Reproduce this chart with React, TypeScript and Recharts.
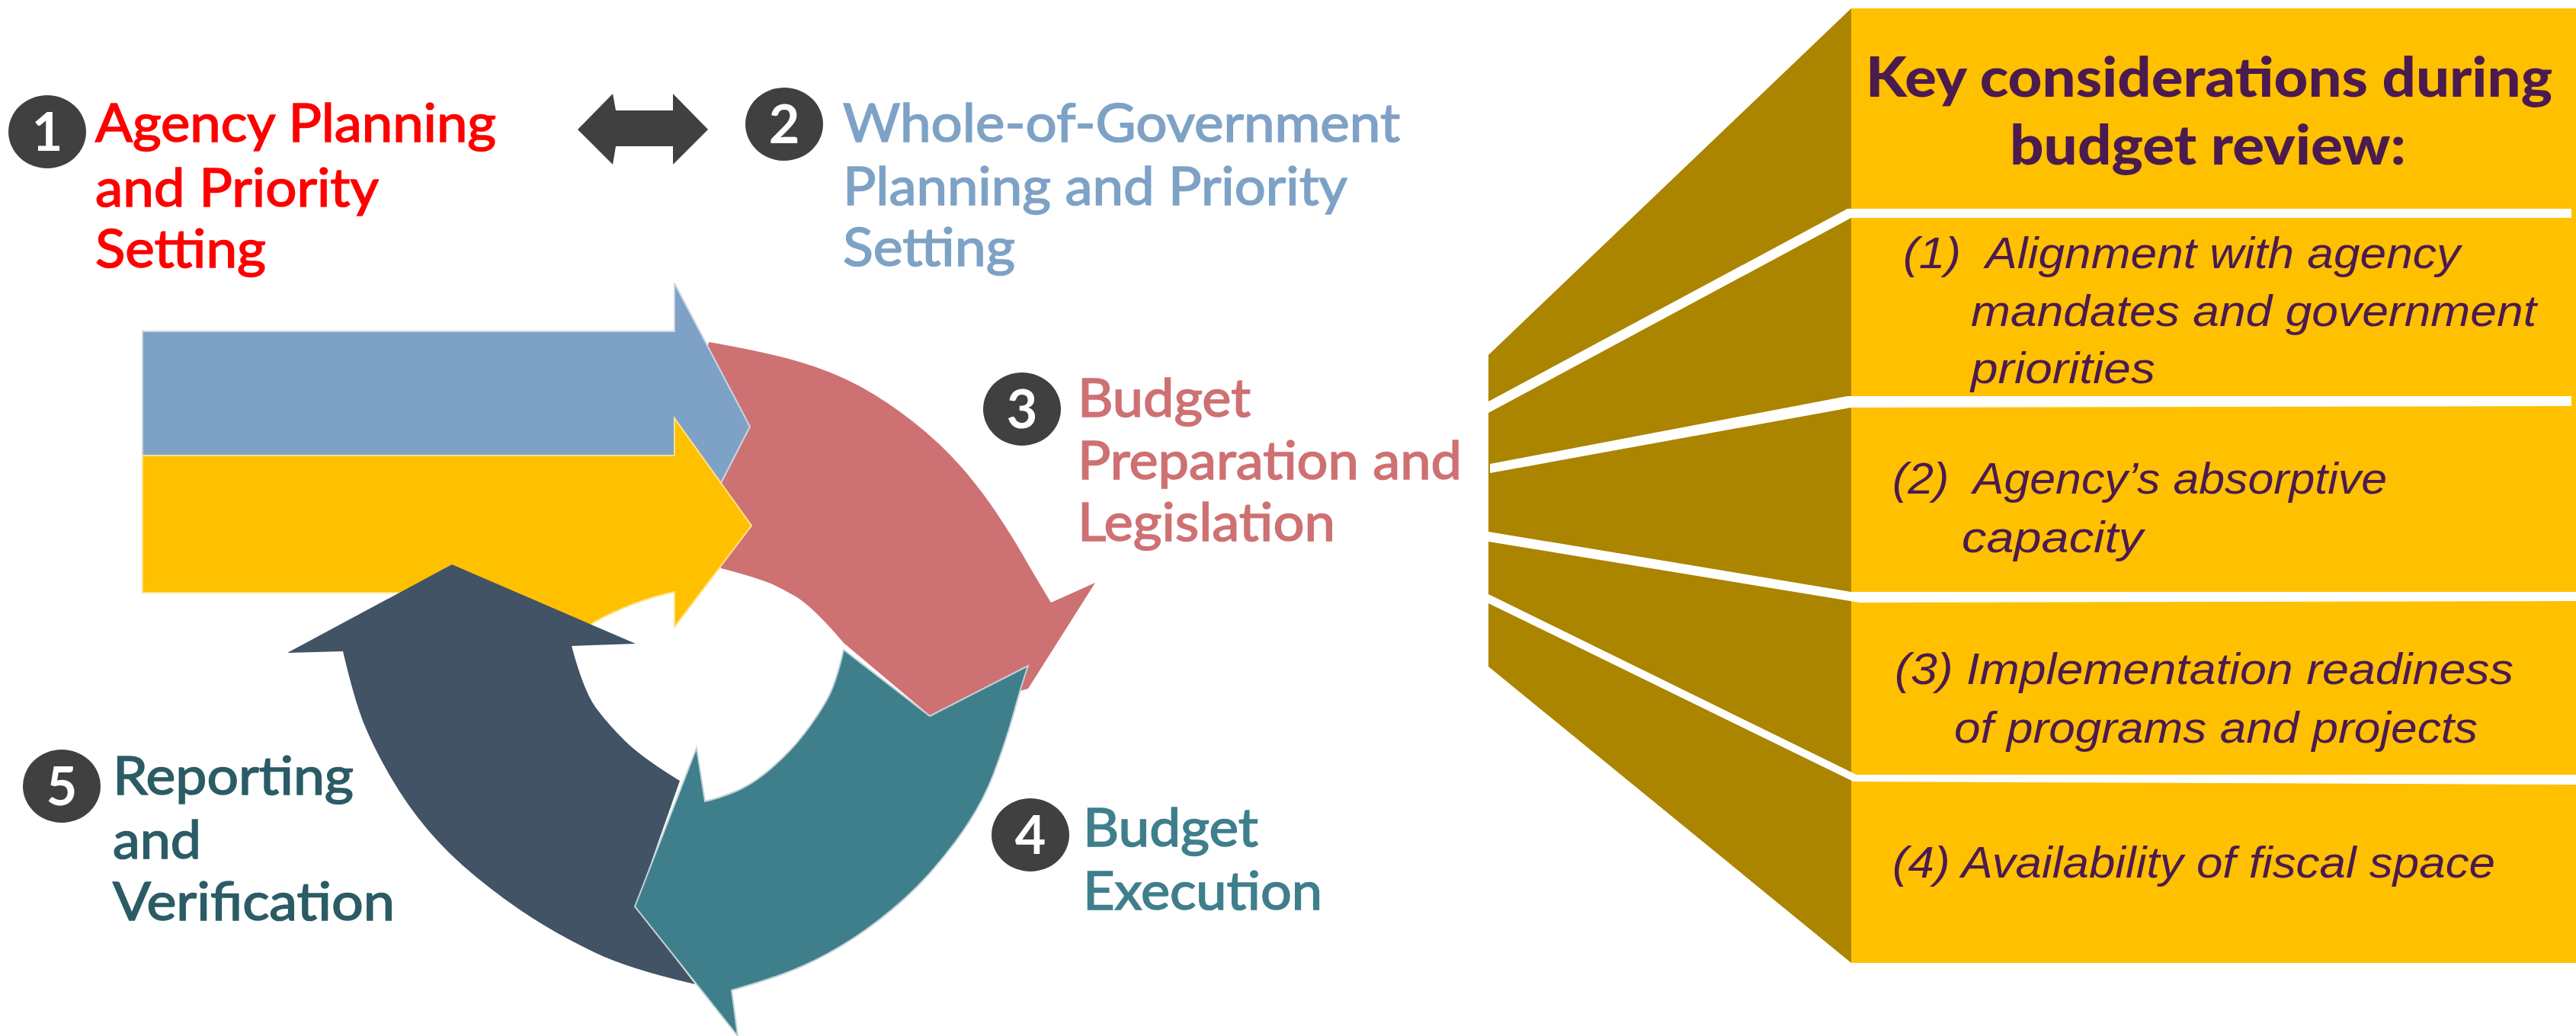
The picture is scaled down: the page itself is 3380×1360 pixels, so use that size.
import { Scatter, ScatterChart, XAxis, YAxis } from "recharts";

type Pt = { x: number; y: number; s?: boolean };
type Line = { x: number; y: number; text: string; len: number };

// outlines, in picture pixels; s marks a point on a curved edge
const redArrow: Pt[] = [
  { x: 930, y: 449 }, { x: 1005, y: 462, s: true }, { x: 1093, y: 488, s: true }, { x: 1163, y: 526, s: true },
  { x: 1233, y: 581, s: true }, { x: 1286, y: 641, s: true }, { x: 1328, y: 704, s: true }, { x: 1356, y: 753, s: true },
  { x: 1379, y: 791 }, { x: 1437, y: 765 }, { x: 1349, y: 904 }, { x: 1221, y: 940 }, { x: 1107, y: 844 },
  { x: 1068, y: 798, s: true }, { x: 1023, y: 770, s: true }, { x: 981, y: 755, s: true }, { x: 946, y: 746 }, { x: 900, y: 600 },
];
const tealArrow: Pt[] = [
  { x: 1349, y: 874 }, { x: 1220, y: 940 }, { x: 1107, y: 853 }, { x: 1097, y: 897, s: true }, { x: 1073, y: 940, s: true },
  { x: 1037, y: 987, s: true }, { x: 987, y: 1030, s: true }, { x: 943, y: 1048, s: true }, { x: 925, y: 1052 },
  { x: 914, y: 982 }, { x: 833, y: 1190 }, { x: 968, y: 1360 }, { x: 960, y: 1300 }, { x: 1020, y: 1283, s: true },
  { x: 1087, y: 1253, s: true }, { x: 1153, y: 1210, s: true }, { x: 1220, y: 1150, s: true }, { x: 1287, y: 1060, s: true },
  { x: 1320, y: 973, s: true }, { x: 1340, y: 900, s: true },
];
const navyArrow: Pt[] = [
  { x: 593, y: 741 }, { x: 834, y: 845 }, { x: 750, y: 848 }, { x: 766, y: 908, s: true }, { x: 799, y: 952, s: true },
  { x: 843, y: 995, s: true }, { x: 892, y: 1025 }, { x: 834, y: 1190 }, { x: 912, y: 1292 }, { x: 825, y: 1272, s: true },
  { x: 734, y: 1228, s: true }, { x: 661, y: 1181, s: true }, { x: 588, y: 1121, s: true }, { x: 534, y: 1057, s: true },
  { x: 490, y: 981, s: true }, { x: 465, y: 919, s: true }, { x: 450, y: 855 }, { x: 377, y: 857 },
];
const blueArrow: Pt[] = [
  { x: 187, y: 435 }, { x: 885, y: 435 }, { x: 885, y: 372 }, { x: 984, y: 560 }, { x: 946, y: 634 }, { x: 885, y: 598 }, { x: 187, y: 598 },
];
const yellowArrow: Pt[] = [
  { x: 187, y: 598 }, { x: 885, y: 598 }, { x: 885, y: 549 }, { x: 986, y: 690 }, { x: 885, y: 823 }, { x: 885, y: 777 },
  { x: 832, y: 788, s: true }, { x: 779, y: 817 }, { x: 760, y: 835 }, { x: 600, y: 800 }, { x: 540, y: 778 }, { x: 187, y: 778 },
];
const doubleArrow: Pt[] = [
  { x: 758, y: 170 }, { x: 804, y: 123 }, { x: 808, y: 145 }, { x: 883, y: 145 }, { x: 883, y: 123 }, { x: 929, y: 170 },
  { x: 883, y: 216 }, { x: 883, y: 192 }, { x: 808, y: 192 }, { x: 804, y: 216 },
];
const fanBack: Pt[] = [{ x: 1953, y: 466 }, { x: 2429, y: 11 }, { x: 2429, y: 1264 }, { x: 1953, y: 875 }];
const panel: Pt[] = [{ x: 2429, y: 11 }, { x: 3380, y: 11 }, { x: 3380, y: 1264 }, { x: 2429, y: 1264 }];
const gaps: Pt[][] = [
  [{ x: 1953, y: 527 }, { x: 2424, y: 274 }, { x: 3374, y: 274 }, { x: 3374, y: 286 }, { x: 2429, y: 286 }, { x: 1953, y: 542 }],
  [{ x: 1955, y: 609 }, { x: 2424, y: 520 }, { x: 3374, y: 520 }, { x: 3374, y: 533 }, { x: 2429, y: 535 }, { x: 1955, y: 621 }],
  [{ x: 1953, y: 698 }, { x: 2429, y: 777 }, { x: 3380, y: 777 }, { x: 3380, y: 789 }, { x: 2440, y: 791 }, { x: 1953, y: 711 }],
  [{ x: 1953, y: 780 }, { x: 2436, y: 1017 }, { x: 3380, y: 1017 }, { x: 3380, y: 1030 }, { x: 2432, y: 1026 }, { x: 1953, y: 792 }],
];

const badges = [
  { x: 62, y: 173, text: "1" }, { x: 1029, y: 163, text: "2" }, { x: 1341, y: 537, text: "3" },
  { x: 1352, y: 1096, text: "4" }, { x: 81, y: 1032, text: "5" },
];
const stepOne: Line[] = [
  { x: 125, y: 186, text: "Agency Planning", len: 526 }, { x: 125, y: 271, text: "and Priority", len: 372 }, { x: 125, y: 351, text: "Setting", len: 224 },
];
const stepTwo: Line[] = [
  { x: 1106, y: 186, text: "Whole-of-Government", len: 731 }, { x: 1106, y: 269, text: "Planning and Priority", len: 662 }, { x: 1106, y: 349, text: "Setting", len: 226 },
];
const stepThree: Line[] = [
  { x: 1414, y: 547, text: "Budget", len: 227 }, { x: 1414, y: 629, text: "Preparation and", len: 504 }, { x: 1414, y: 710, text: "Legislation", len: 338 },
];
const stepFour: Line[] = [
  { x: 1421, y: 1111, text: "Budget", len: 230 }, { x: 1421, y: 1194, text: "Execution", len: 314 },
];
const stepFive: Line[] = [
  { x: 148, y: 1043, text: "Reporting", len: 316 }, { x: 148, y: 1127, text: "and", len: 116 }, { x: 148, y: 1208, text: "Verification", len: 370 },
];
const heading: Line[] = [
  { x: 2448, y: 127, text: "Key considerations during", len: 901 }, { x: 2637, y: 216, text: "budget review:", len: 520 },
];
const considerations: Line[] = [
  { x: 2497, y: 352, text: "(1)  Alignment with agency", len: 731 },
  { x: 2586, y: 428, text: "mandates and government", len: 742 },
  { x: 2586, y: 503, text: "priorities", len: 242 },
  { x: 2483, y: 648, text: "(2)  Agency’s absorptive", len: 649 },
  { x: 2574, y: 725, text: "capacity", len: 238 },
  { x: 2486, y: 898, text: "(3) Implementation readiness", len: 812 },
  { x: 2564, y: 975, text: "of programs and projects", len: 687 },
  { x: 2483, y: 1152, text: "(4) Availability of fiscal space", len: 791 },
];

const outlinePath = (pts: { x: number; y: number }[], rows: Pt[]) => {
  let d = `M${pts[0].x},${pts[0].y}`;
  pts.forEach((p, i) => {
    if (i === 0) return;
    const n = (i + 1) % pts.length;
    if (rows[i].s) {
      const ex = rows[n].s ? (p.x + pts[n].x) / 2 : pts[n].x;
      const ey = rows[n].s ? (p.y + pts[n].y) / 2 : pts[n].y;
      d += `Q${p.x},${p.y} ${ex},${ey}`;
    } else {
      d += `L${p.x},${p.y}`;
    }
  });
  return d + "Z";
};

const noDot = () => <g />;

const filled = (rows: Pt[], fill: string, stroke = "none", key = fill) => (
  <Scatter
    key={key}
    data={rows}
    isAnimationActive={false}
    shape={noDot}
    line={(p: any) => <path d={outlinePath(p.points, rows)} fill={fill} stroke={stroke} strokeWidth={2} />}
  />
);

const lines = (rows: Line[], color: string, key: string, font: string, size: number, weight: number, italic = false, thicken = 0) => (
  <Scatter
    key={key}
    data={rows}
    isAnimationActive={false}
    shape={(p: any) => (
      <text
        x={p.cx}
        y={p.cy}
        fill={color}
        stroke={thicken ? color : "none"}
        strokeWidth={thicken}
        fontFamily={font}
        fontSize={size}
        fontWeight={weight}
        fontStyle={italic ? "italic" : "normal"}
        textLength={p.payload.len}
        lengthAdjust="spacingAndGlyphs"
        xmlSpace="preserve"
      >
        {p.payload.text}
      </text>
    )}
  />
);

export default function App() {
  return (
    <div style={{ position: "absolute", left: 0, top: 0, width: 3380, height: 1360, background: "#fff" }}>
      <ScatterChart width={3380} height={1360} margin={{ top: 0, right: 0, bottom: 0, left: 0 }}>
        <XAxis type="number" dataKey="x" domain={[0, 3380]} hide />
        <YAxis type="number" dataKey="y" domain={[0, 1360]} reversed hide />
        {filled(doubleArrow, "#404040")}
        {filled(redArrow, "#ce7173")}
        {filled(blueArrow, "#7ea2c6", "#c9d6e4")}
        {filled(yellowArrow, "#ffc000", "#ffe28a")}
        {filled(navyArrow, "#415364")}
        {filled(tealArrow, "#3f7f8c", "#c3d2d6")}
        {filled(fanBack, "#ab8400")}
        {filled(panel, "#ffc000")}
        {gaps.map((g, i) => filled(g, "#ffffff", "none", `gap${i}`))}
        <Scatter
          data={badges}
          isAnimationActive={false}
          shape={(p: any) => (
            <g>
              <ellipse cx={p.cx} cy={p.cy} rx={51} ry={48} fill="#404040" />
              <text x={p.cx} y={p.cy + 25} textAnchor="middle" fill="#fff" fontFamily="Lato" fontWeight={700} fontSize={70}>
                {p.payload.text}
              </text>
            </g>
          )}
        />
        {lines(stepOne, "#ff0000", "one", "Lato", 69, 400, false, 1.6)}
        {lines(stepTwo, "#7ea2c6", "two", "Lato", 69, 400, false, 1.6)}
        {lines(stepThree, "#ce7173", "three", "Lato", 69, 400, false, 1.6)}
        {lines(stepFour, "#3f7f8c", "four", "Lato", 69, 400, false, 1.6)}
        {lines(stepFive, "#2b5c66", "five", "Lato", 69, 400, false, 1.6)}
        {lines(heading, "#4b1b4f", "heading", "Lato", 72, 900)}
        {lines(considerations, "#4b1b4f", "items", "Liberation Sans", 57, 400, true)}
      </ScatterChart>
    </div>
  );
}
